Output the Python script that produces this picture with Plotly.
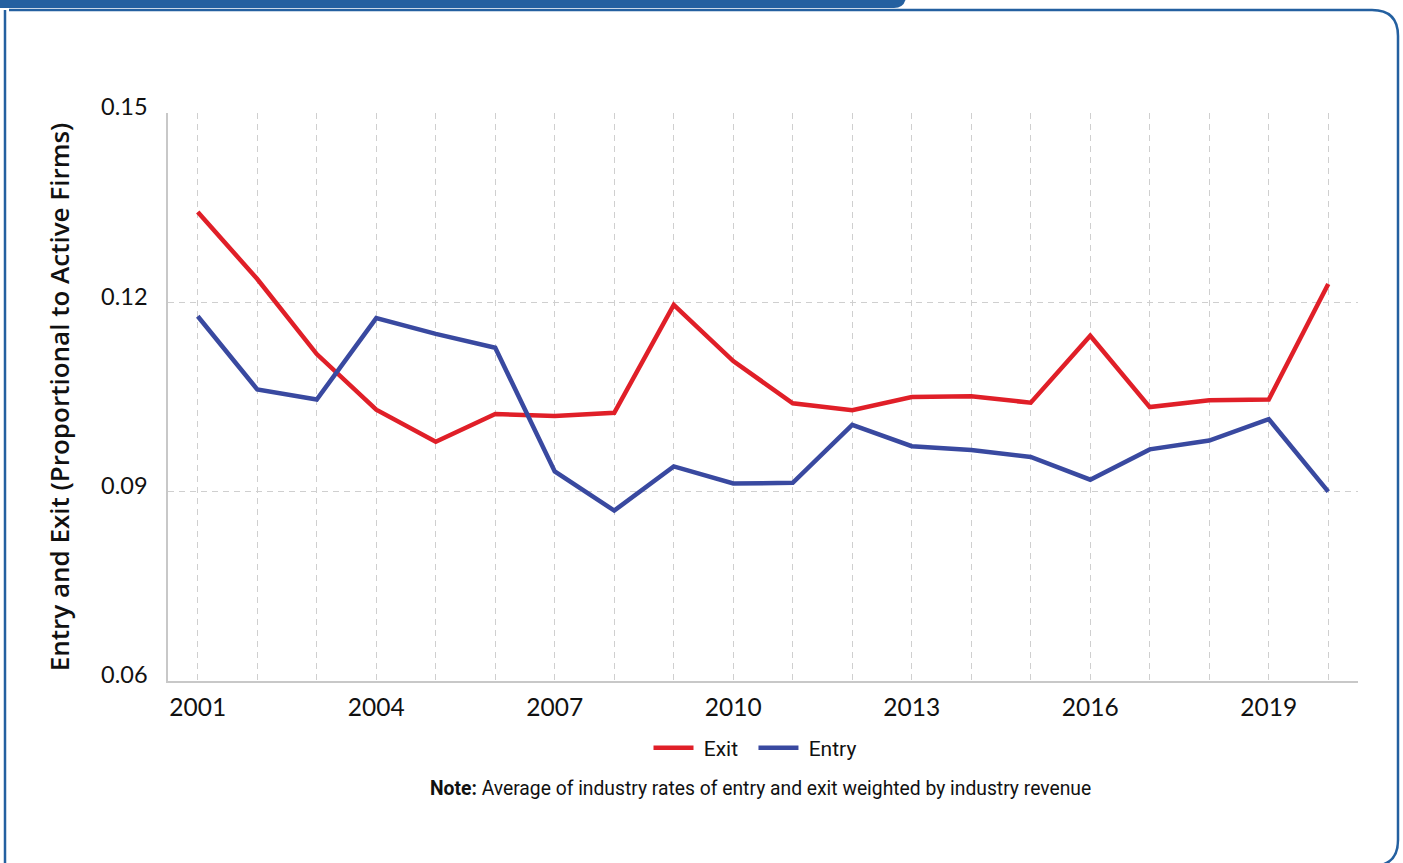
import plotly.graph_objects as go

# ---------------- data ----------------
years = list(range(2001, 2021))
exit_rate = [0.1343, 0.1237, 0.1118, 0.1030, 0.0979, 0.1023, 0.1020, 0.1025, 0.1196, 0.1107,
             0.1040, 0.1029, 0.1050, 0.1051, 0.1041, 0.1147, 0.1034, 0.1045, 0.1046, 0.1229]
entry_rate = [0.1178, 0.1062, 0.1046, 0.1175, 0.1150, 0.1128, 0.0932, 0.0870, 0.0940, 0.0913,
              0.0914, 0.1006, 0.0972, 0.0966, 0.0955, 0.0919, 0.0967, 0.0981, 0.1015, 0.0900]
y_ticks = [0.06, 0.09, 0.12, 0.15]
x_ticks = [2001, 2004, 2007, 2010, 2013, 2016, 2019]
series_names = ["Exit", "Entry"]
y_title = "Entry and Exit (Proportional to Active Firms)"
note_text = "<b>Note:</b> Average of industry rates of entry and exit weighted by industry revenue"

# ---------------- layout geometry ----------------
W, H = 1403, 863
ML, MR, MT, MB = 168, 45, 113, 182
PW, PH = W - ML - MR, H - MT - MB


def px(x):
    return (x - ML) / PW


def py(y):
    return (H - MB - y) / PH


RED = "#e01f28"
BLUE = "#3949a0"
FRAME = "#2460a0"
GRID = "#cfcfcf"
NB = "\u00a0"

fig = go.Figure()
fig.add_trace(go.Scatter(x=years, y=exit_rate, mode="lines",
                         name=NB + series_names[0] + NB + NB,
                         line=dict(color=RED, width=4.5)))
fig.add_trace(go.Scatter(x=years, y=entry_rate, mode="lines",
                         name=NB + series_names[1],
                         line=dict(color=BLUE, width=4.5)))

# frame decoration
frame_path = (f"M {px(9)},{py(10)} L {px(1372)},{py(10)} "
              f"Q {px(1398)},{py(10)} {px(1398)},{py(36)} "
              f"L {px(1398)},{py(840)} Q {px(1398)},{py(866)} {px(1372)},{py(866)}")
shapes = [
    dict(type="path", xref="paper", yref="paper",
         path=f"M {px(-2)},{py(-2)} L {px(906)},{py(-2)} Q {px(904)},{py(8)} {px(894)},{py(8)} L {px(-2)},{py(8)} Z",
         fillcolor=FRAME, line=dict(width=0), layer="above"),
    dict(type="path", xref="paper", yref="paper", path=frame_path,
         line=dict(color=FRAME, width=2.5), layer="above"),
    dict(type="line", xref="paper", yref="paper", x0=px(5), x1=px(5), y0=py(10), y1=py(870),
         line=dict(color=FRAME, width=2.5)),
]

fig.update_layout(
    width=W, height=H,
    margin=dict(l=ML, r=MR, t=MT, b=MB, autoexpand=False),
    paper_bgcolor="white", plot_bgcolor="white",
    font=dict(family="Lato, Roboto, sans-serif", color="#111111"),
    showlegend=True,
    legend=dict(orientation="h", x=px(755), xanchor="center", y=py(748), yanchor="middle",
                font=dict(size=21, family="Roboto, sans-serif", color="#111111"),
                itemwidth=40, tracegroupgap=0, bgcolor="rgba(0,0,0,0)"),
    shapes=shapes,
    annotations=[dict(text=note_text, xref="paper", yref="paper", x=px(760), y=py(788),
                      xanchor="center", yanchor="middle", showarrow=False,
                      font=dict(size=19.3, family="Roboto, sans-serif", color="#111111"))],
)

fig.update_xaxes(
    range=[2000.5, 2020.5], tickvals=x_ticks, ticktext=[str(v) for v in x_ticks],
    showgrid=True, gridcolor=GRID, griddash="6px,5px", gridwidth=1,
    minor=dict(dtick=1, tick0=2001, showgrid=True, gridcolor=GRID, griddash="6px,5px", gridwidth=1),
    showline=True, linecolor="#c8c8c8", linewidth=1.5, ticks="", zeroline=False,
    tickfont=dict(size=24.5, family="Lato, Roboto, sans-serif", color="#111111"),
    ticklabelstandoff=4, automargin=False,
)
fig.update_yaxes(
    range=[0.06, 0.15], tickvals=y_ticks, ticktext=[f"{v:.2f}" for v in y_ticks],
    showgrid=True, gridcolor=GRID, griddash="6px,5px", gridwidth=1,
    showline=True, linecolor="#c8c8c8", linewidth=1.5, ticks="", zeroline=False,
    tickfont=dict(size=23.5, family="Lato, Roboto, sans-serif", color="#111111"),
    ticklabelstandoff=14, ticklabelshift=-6, automargin=False,
    title=dict(text=y_title, standoff=24,
               font=dict(size=26, family="Open Sans, sans-serif", weight=600, color="#111111")),
)

fig.write_html("out.html")
